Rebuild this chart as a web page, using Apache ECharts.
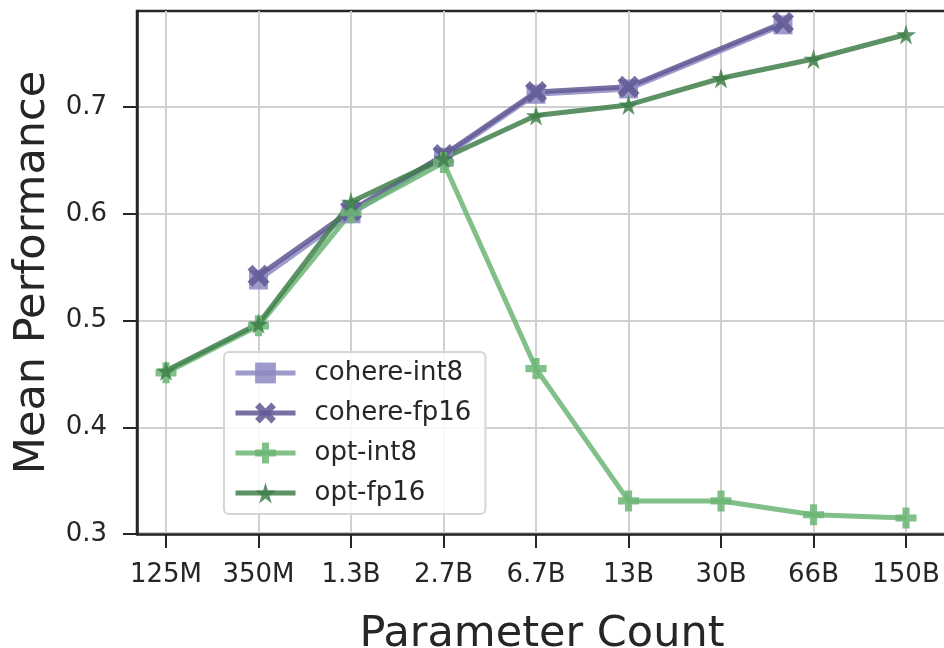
<!DOCTYPE html>
<html>
<head>
<meta charset="utf-8">
<script src="https://cdn.jsdelivr.net/npm/echarts@6/dist/echarts.min.js"></script>
<style>
  html, body { margin: 0; padding: 0; background: #fff; }
  #chart { width: 944px; height: 648px; }
</style>
</head>
<body>
<div id="chart"></div>
<script>
// tick labels along x, one per evenly spaced position
var sizeLabels = ['125M', '350M', '1.3B', '2.7B', '6.7B', '13B', '30B', '66B', '150B'];
var yTicks = [0.3, 0.4, 0.5, 0.6, 0.7];

// x positions (index on the size axis); cohere's largest model sits between 30B and 66B
var cohereX = [1, 2, 3, 4, 5, 6.67];
var optX = [0, 1, 2, 3, 4, 5, 6, 7, 8];

var cohereInt8 = [0.538, 0.600, 0.653, 0.712, 0.717, 0.777];
var cohereFp16 = [0.542, 0.603, 0.655, 0.714, 0.719, 0.779];
var optInt8 = [0.451, 0.495, 0.601, 0.648, 0.455, 0.331, 0.331, 0.318, 0.315];
var optFp16 = [0.453, 0.497, 0.611, 0.652, 0.692, 0.702, 0.727, 0.745, 0.768];

var pair = function (xs, ys) {
    var res = [];
    for (var i = 0; i < xs.length; i++) {
        res.push([xs[i], ys[i]]);
    }
    return res;
};

var starPath = 'path://M50,0 L61,35 L98,35 L68,57 L79,91 L50,70 L21,91 L32,57 L2,35 L39,35 Z';
var plusPath = 'path://M33,0 H67 V33 H100 V67 H67 V100 H33 V67 H0 V33 H33 Z';
var xPath = 'path://M0,22 L22,0 L50,28 L78,0 L100,22 L72,50 L100,78 L78,100 L50,72 L22,100 L0,78 L28,50 Z';

function makeSeries(name, data, color, symbol, size) {
    return {
        name: name,
        type: 'line',
        data: data,
        symbol: symbol,
        symbolSize: size,
        showAllSymbol: true,
        lineStyle: { color: color, width: 5, opacity: 0.85 },
        itemStyle: { color: color, opacity: 0.85 },
        emphasis: { disabled: true },
        animation: false
    };
}

var chart = echarts.init(document.getElementById('chart'));
var option = {
    backgroundColor: '#fff',
    textStyle: { fontFamily: 'DejaVu Sans' },
    grid: {
        left: 137, top: 11, right: -3, bottom: 114,
        outerBoundsMode: 'none',
        containLabel: false,
        show: true, borderColor: '#262626', borderWidth: 2.5
    },
    legend: {
        orient: 'vertical',
        left: 224, top: 352,
        padding: [8, 14, 8, 9],
        itemGap: 14,
        itemWidth: 60,
        itemHeight: 26,
        backgroundColor: 'rgba(255,255,255,0.85)',
        borderColor: '#d6d6d6',
        borderWidth: 2,
        borderRadius: 5,
        lineStyle: { width: 5 },
        textStyle: { fontSize: 26, color: '#262626', padding: [0, 0, 0, 14] },
        data: ['cohere-int8', 'cohere-fp16', 'opt-int8', 'opt-fp16']
    },
    xAxis: {
        type: 'value',
        min: -0.3135, max: 8.443,
        name: 'Parameter Count',
        nameLocation: 'middle',
        nameGap: 79,
        nameTextStyle: { fontSize: 43, color: '#262626' },
        axisLine: { onZero: false, lineStyle: { color: '#262626', width: 2.5 } },
        axisTick: { show: true, length: 14, customValues: optX, lineStyle: { color: '#262626', width: 2 } },
        axisLabel: {
            customValues: optX,
            fontSize: 26, color: '#262626', margin: 28,
            formatter: function (v) { return sizeLabels[Math.round(v)]; }
        },
        splitLine: { show: true, lineStyle: { color: '#d0d0d0', width: 2 } }
    },
    yAxis: {
        type: 'value',
        min: 0.3, max: 0.79,
        name: 'Mean Performance',
        nameLocation: 'middle',
        nameGap: 76,
        nameTextStyle: { fontSize: 43, color: '#262626' },
        axisLine: { show: true, onZero: false, lineStyle: { color: '#262626', width: 2.5 } },
        axisTick: { show: true, length: 14, customValues: yTicks, lineStyle: { color: '#262626', width: 2 } },
        axisLabel: {
            customValues: yTicks,
            fontSize: 26, color: '#262626', margin: 30,
            formatter: function (v) { return v.toFixed(1); }
        },
        splitLine: { show: true, lineStyle: { color: '#d0d0d0', width: 2 } }
    },
    series: [
        makeSeries('cohere-int8', pair(cohereX, cohereInt8), '#8d88c2', 'rect', 19),
        makeSeries('cohere-fp16', pair(cohereX, cohereFp16), '#5f5893', xPath, 22),
        makeSeries('opt-int8', pair(optX, optInt8), '#6cb574', plusPath, 21),
        makeSeries('opt-fp16', pair(optX, optFp16), '#3f7f4a', starPath, 20)
    ]
};
chart.setOption(option);
window.addEventListener('resize', function () {
    chart.resize();
});
</script>
</body>
</html>
